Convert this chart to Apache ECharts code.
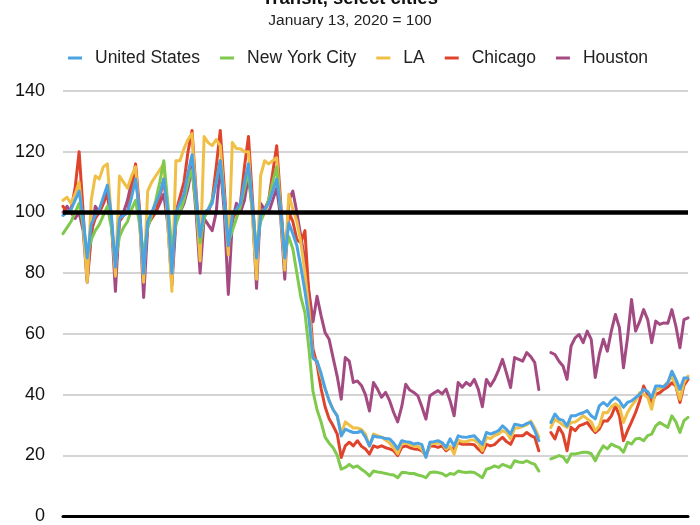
<!DOCTYPE html>
<html>
<head>
<meta charset="utf-8">
<script src="https://cdn.jsdelivr.net/npm/echarts@6/dist/echarts.min.js"></script>
<style>
  html, body { margin: 0; padding: 0; background: #ffffff; }
  #chart { width: 700px; height: 525px; }
</style>
</head>
<body>
<div id="chart"></div>
<script>
// ---- Data (daily, Jan 13 2020 onward) ----
const startDate = '2020-01-13';
const dayCount = 156;

const unitedStates = [
  99, 100, 101, 104, 107, 98, 85,
  96, 99, 101, 105, 109, 99, 82,
  98, 99, 100, 105, 111, 100, 80,
  97, 100, 103, 106, 111, 100, 80,
  100, 103, 106, 113, 119, 105, 92,
  100, 101, 103, 110, 117, 104, 89,
  99, 101, 103, 110, 116, 102, 85,
  99, 101, 103, 107, 111, 101, 85,
  96.5, 93, 89, 82, 74, 65, 52,
  51, 47, 42, 38, 35, 33, 26.4,
  28.6, 28, 27.5, 27.5, 28, 26, 23.1,
  26.4, 26, 25.9, 25.5, 25.4, 24, 22.1,
  24.8, 24.5, 24.3, 23.7, 24, 23.5, 19.3,
  24.3, 24.5, 24.8, 24.2, 22.6, 25.4, 23.1,
  26.4, 26, 25.9, 26.2, 26.4, 25, 23.6,
  27.5, 27, 27.5, 28.1, 29.7, 28.5, 27,
  30.2, 30, 29.7, 30.5, 30.8, 28.1, 24.8,
  null, null, 30.8, 33.6, 31.9, 31.5, 29.7,
  33, 33, 33.6, 34, 34.7, 33, 32,
  36.3, 37.4, 36.3, 38, 39, 37.9, 35.8,
  37.4, 37.9, 39, 40, 41.7, 41, 39,
  42.8, 42.8, 42.5, 44, 47.7, 45, 41.7,
  45.5, 45.5
];

const newYorkCity = [
  93, 95, 97, 100, 103, 96, 86,
  91, 94, 96, 99, 102, 95, 84,
  92, 95, 97, 101, 104, 96, 86,
  95, 99, 104, 110, 117, 103, 88,
  96, 100, 104, 110, 114, 102, 90,
  98, 101, 104, 110, 117, 104, 90,
  94, 98, 102, 108, 113, 101, 88,
  97, 100, 104, 110, 115, 100, 86,
  92, 88, 80, 72, 67, 55, 41,
  35, 31, 26, 24, 22.5, 20, 15.4,
  16, 17, 16, 16.5, 15.4, 14.5, 13.2,
  14.8, 14.5, 14.3, 14, 13.7, 13.5, 12.6,
  14.3, 14.3, 14, 14, 13.5, 13.2, 12.6,
  14.3, 14.5, 14.3, 14, 13.2, 14, 13.7,
  14.8, 14.5, 14.3, 14.5, 14.3, 13.5, 12.6,
  15.4, 15.8, 16.5, 16, 17, 16.5, 15.9,
  18.2, 17.8, 17.6, 18.2, 17.5, 17, 14.8,
  null, null, 18.8, 19.3, 19.9, 19.5, 17.7,
  20.4, 20.4, 20.7, 21, 21, 20.5, 18.2,
  21, 23.1, 22.1, 23.7, 23, 22.5, 21,
  24.3, 23.7, 25.4, 25.6, 24.8, 26.5, 27,
  29.7, 30.8, 30, 29.2, 33, 31, 27.5,
  31.4, 32.5
];

const losAngeles = [
  104, 105, 103, 106, 110, 96, 77,
  104, 112, 111, 115, 116, 98, 79,
  112, 110, 108, 112, 115, 97, 77,
  107, 110, 112, 114, 116, 96, 74,
  117, 117, 121, 124, 126, 104, 84,
  125, 123, 122, 124, 122, 104, 86,
  123, 121, 121, 120, 120, 98, 78,
  112, 117, 116, 117, 118, 100, 81,
  106, 101, 97, 90, 80, 68, 52,
  51, 46, 42, 38, 35, 33, 27,
  31, 30, 29, 29, 28.5, 27, 23,
  27, 26.5, 26, 25, 24, 22.5, 20.5,
  24, 24, 23.5, 23, 23, 22, 19.5,
  23.5, 24, 24, 24, 22, 23, 20.4,
  25, 24.5, 24.5, 25, 25, 24, 21.5,
  26, 25.5, 26.5, 27, 28.1, 27.5, 25.4,
  29, 29, 29.5, 30, 31.3, 29, 26,
  null, null, 29.2, 31.9, 31, 30, 29.2,
  30.8, 31, 31.9, 33, 32, 31, 28.1,
  29.7, 34.1, 34, 36, 37, 36, 30.8,
  34.1, 36.3, 38, 40.6, 40.1, 39, 35.2,
  41.7, 42, 42.8, 44, 46.1, 43, 38.4,
  44, 46.1
];

const chicago = [
  102, 100, 101, 108, 120, 100, 78,
  94, 98, 100, 103, 106, 97, 80,
  97, 99, 100, 108, 116, 101, 80,
  96, 98, 100, 105, 111, 99, 78,
  100, 105, 110, 120, 127, 107, 88,
  99, 100, 104, 115, 127, 108, 88,
  98, 100, 103, 115, 125, 104, 84,
  100, 101, 104, 113, 122, 103, 84,
  100, 97, 91, 90, 94, 72, 55,
  50, 42, 36, 32, 29.7, 27, 19.3,
  23.1, 24.3, 23.1, 24.8, 23, 22.1, 20.4,
  23.1, 22.6, 23.1, 22.5, 22.1, 21.5, 19.9,
  22.6, 23.1, 22.5, 22.1, 22, 21.5, 19.9,
  23.1, 23, 22.6, 23.1, 21.5, 22.6, 22,
  24.2, 23.6, 23.6, 23.6, 23.5, 22, 20.9,
  23.6, 23.1, 23.5, 24.8, 25.9, 24.5, 23.6,
  26.4, 26.4, 26.4, 27.5, 26.5, 25.9, 21.5,
  null, null, 27.5, 25.4, 29.2, 27, 21.5,
  29.2, 28.1, 29.7, 30.2, 30.8, 29, 27.5,
  28.6, 31.3, 31.3, 33, 36.3, 33, 24.8,
  28.1, 31, 34.1, 37.9, 42.8, 40, 37.4,
  40.1, 40.6, 41.7, 42.5, 43.9, 42.8, 37.4,
  43, 45
];

const houston = [
  100, 102, 100, 98, 100, 94, 77,
  92, 102, 100, 103, 108, 97, 74,
  98, 100, 104, 110, 114, 98, 72,
  95, 99, 100, 103, 106, 96, 76,
  97, 100, 103, 108, 115, 100, 80,
  98, 96, 94, 100, 116, 100, 73,
  97, 103, 100, 104, 112, 100, 75,
  103, 101, 100, 104, 108, 98, 78,
  104, 107, 100, 92, 84, 74, 64,
  72.4, 66, 60.4, 58.2, 52, 46, 38.5,
  52.2, 51, 44, 44.5, 43, 40, 34.6,
  44, 41.8, 39.1, 40.7, 38, 34.1, 31,
  36, 43.4, 41.5, 40.7, 39.6, 36, 31.9,
  39.6, 40.5, 41.3, 40.2, 41.8, 38, 33,
  44, 42.4, 44, 43, 45, 41.7, 36,
  45, 42.8, 45, 48, 51.6, 47, 42.3,
  52.2, 51.6, 51, 53.8, 52.5, 50.5, 41.7,
  null, null, 53.8, 53.2, 51, 49.4, 45,
  56, 58.7, 59.8, 57.1, 60.9, 58.2, 45.6,
  53.2, 58.2, 54.3, 61, 66.4, 62, 48.8,
  58.7, 71.3, 60.9, 64, 68, 64.7, 57.1,
  64.2, 63.1, 63.6, 63.5, 68, 62.5, 55.4,
  64.7, 65.3
];

const seriesNames = ['United States', 'New York City', 'LA', 'Chicago', 'Houston'];
const seriesColors = ['#4ba3e3', '#7fc94c', '#f0bf45', '#e0432c', '#a44a82'];
const yTicks = [0, 20, 40, 60, 80, 100, 120, 140];
const baselineValue = 100;

// category labels (dates)
const categories = [];
{
  const d0 = new Date(startDate + 'T00:00:00Z');
  for (let i = 0; i < dayCount; i++) {
    const d = new Date(d0.getTime() + i * 86400000);
    categories.push(d.toISOString().slice(0, 10));
  }
}

const allData = [unitedStates, newYorkCity, losAngeles, chicago, houston];
const zOrder = [7, 6, 5, 4, 3];

const chart = echarts.init(document.getElementById('chart'), null, { renderer: 'canvas' });

const series = seriesNames.map((name, i) => ({
  name: name,
  type: 'line',
  data: allData[i],
  showSymbol: false,
  symbol: 'none',
  connectNulls: false,
  z: zOrder[i],
  lineStyle: { color: seriesColors[i], width: 3, join: 'round', cap: 'round' },
  itemStyle: { color: seriesColors[i] },
  emphasis: { disabled: true },
  animation: false
}));

// bold reference line at 100
series[0].markLine = {
  silent: true,
  symbol: ['none', 'none'],
  label: { show: false },
  lineStyle: { color: '#000000', width: 4.5, type: 'solid' },
  data: [{ yAxis: baselineValue }],
  z: 10,
  animation: false
};

chart.setOption({
  backgroundColor: '#ffffff',
  animation: false,
  textStyle: { fontFamily: 'Liberation Sans, Arial, Helvetica, sans-serif' },
  title: [
    {
      text: 'Transit, select cities',
      left: 'center',
      top: -16,
      textStyle: { fontSize: 18.5, fontWeight: 'bold', color: '#111111' }
    },
    {
      text: 'January 13, 2020 = 100',
      left: 'center',
      top: 8,
      textStyle: { fontSize: 15.5, fontWeight: 'normal', color: '#222222' }
    }
  ],
  legend: {
    data: seriesNames,
    left: 68,
    top: 49,
    padding: 0,
    icon: 'rect',
    itemWidth: 14,
    itemHeight: 3,
    itemGap: 20,
    textStyle: { fontSize: 17.5, color: '#222222', padding: [0, 0, 0, 8] }
  },
  grid: { left: 63, right: 12, top: 91, bottom: 8, containLabel: false },
  xAxis: {
    type: 'category',
    data: categories,
    boundaryGap: false,
    axisLine: { show: true, lineStyle: { color: '#000000', width: 3 } },
    axisTick: { show: false },
    axisLabel: { show: false },
    splitLine: { show: false }
  },
  yAxis: {
    type: 'value',
    min: yTicks[0],
    max: yTicks[yTicks.length - 1],
    interval: yTicks[1] - yTicks[0],
    axisLine: { show: false },
    axisTick: { show: false },
    axisLabel: { fontSize: 18, color: '#111111', margin: 18 },
    splitLine: { show: true, lineStyle: { color: '#c6c6c6', width: 1.5 } }
  },
  series: series
});
</script>
</body>
</html>
